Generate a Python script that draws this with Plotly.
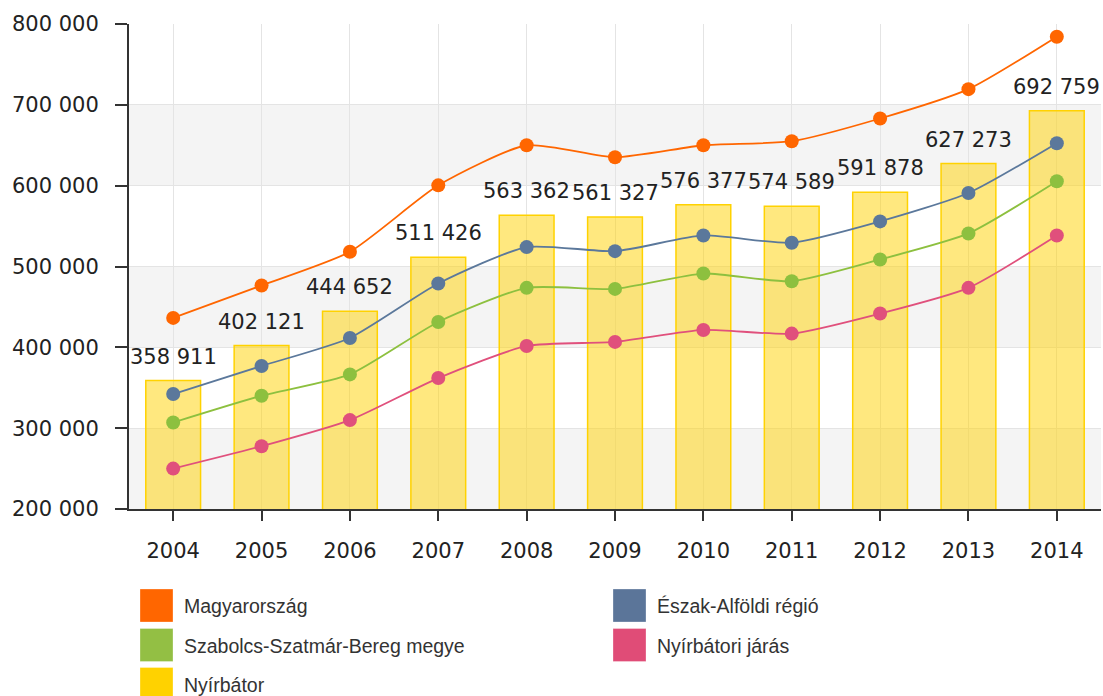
import plotly.graph_objects as go

years = [2004, 2005, 2006, 2007, 2008, 2009, 2010, 2011, 2012, 2013, 2014]
nyirbator = [358911, 402121, 444652, 511426, 563362, 561327, 576377, 574589, 591878, 627273, 692759]
magyarorszag = [436400, 476500, 518200, 600400, 650000, 635100, 650000, 655000, 683100, 719400, 784300]
eszak_alfold = [342200, 376900, 411600, 478900, 524000, 519000, 538400, 529400, 555800, 590900, 652500]
szabolcs = [307000, 340100, 366500, 431400, 473600, 472300, 491300, 481800, 508700, 540900, 605400]
nyirbatori_jaras = [250000, 277700, 310000, 362000, 401700, 406700, 421500, 417000, 441800, 473600, 538400]

y_ticks = [200000, 300000, 400000, 500000, 600000, 700000, 800000]
bands = [(200000, 300000), (400000, 500000), (600000, 700000)]

legend_items = [
    ("Magyarország", "#FF6600"),
    ("Észak-Alföldi régió", "#5B7599"),
    ("Szabolcs-Szatmár-Bereg megye", "#93BF44"),
    ("Nyírbátori járás", "#E04C77"),
    ("Nyírbátor", "#FFD200"),
]

W, H = 1103, 696
ML, MR, MT, MB = 129, 2, 24, 187
PW = W - ML - MR
PH = H - MT - MB

def px(x):
    return (x - ML) / PW

def py(y):
    return (H - MB - y) / PH

fig = go.Figure()

fig.add_trace(go.Bar(
    x=years, y=nyirbator, name="Nyírbátor",
    marker=dict(color="rgba(255,210,0,0.5)", line=dict(color="#FFD200", width=1.5)),
    width=0.62, showlegend=False, hoverinfo="y",
))

line_series = [
    ("Magyarország", magyarorszag, "#FF6600"),
    ("Észak-Alföldi régió", eszak_alfold, "#5B789B"),
    ("Szabolcs-Szatmár-Bereg megye", szabolcs, "#8DC03F"),
    ("Nyírbátori járás", nyirbatori_jaras, "#E0507C"),
]
for name, vals, col in line_series:
    fig.add_trace(go.Scatter(
        x=years, y=vals, name=name, mode="lines+markers",
        line=dict(color=col, width=1.8, shape="spline", smoothing=0.6),
        marker=dict(color=col, size=14),
        showlegend=False,
    ))

annotations = []
for yr, v in zip(years, nyirbator):
    annotations.append(dict(
        x=yr, y=v, xref="x", yref="y", text=f"{v:,}".replace(",", " "),
        showarrow=False, yanchor="middle", xanchor="center", yshift=24,
        font=dict(family="DejaVu Sans", size=21, color="#222222"),
    ))

shapes = []
for y0, y1 in bands:
    shapes.append(dict(type="rect", xref="paper", yref="y", x0=0, x1=1, y0=y0, y1=y1,
                       fillcolor="#F4F4F4", line=dict(width=0), layer="below"))

# legend drawn manually
col_x = [140, 613]
row_top = [589, 628.5, 667.5]
sq = 33
for i, (label, col) in enumerate(legend_items):
    r, c = divmod(i, 2)
    x0 = col_x[c]
    y0 = row_top[r]
    shapes.append(dict(type="rect", xref="paper", yref="paper",
                       x0=px(x0), x1=px(x0 + sq), y0=py(y0), y1=py(y0 + sq),
                       fillcolor=col, line=dict(width=0.5, color="rgba(255,255,255,0.6)")))
    annotations.append(dict(
        xref="paper", yref="paper", x=px(x0 + sq + 9), y=py(y0 + sq / 2 + 0.5),
        text=label, showarrow=False, xanchor="left", yanchor="middle",
        font=dict(family="Liberation Sans", size=19.5, color="#333333"),
    ))

fig.update_layout(
    width=W, height=H,
    margin=dict(l=ML, r=MR, t=MT, b=MB, pad=0),
    paper_bgcolor="white", plot_bgcolor="white",
    separators=". ",
    shapes=shapes, annotations=annotations,
    showlegend=False,
    xaxis=dict(
        range=[years[0] - 0.5, years[-1] + 0.5], tickvals=years, tickformat="d",
        showgrid=True, gridcolor="#E4E4E4", gridwidth=1,
        showline=True, linecolor="#333333", linewidth=2,
        ticks="outside", ticklen=10, tickwidth=1.5, tickcolor="#333333",
        tickfont=dict(family="DejaVu Sans", size=21, color="#222222"),
        ticklabelstandoff=12, zeroline=False, fixedrange=True,
    ),
    yaxis=dict(
        range=[200000, 800000], tickvals=y_ticks, tickformat=",d",
        showgrid=True, gridcolor="#E4E4E4", gridwidth=1,
        showline=True, linecolor="#333333", linewidth=2,
        ticks="outside", ticklen=12, tickwidth=1.5, tickcolor="#333333",
        tickfont=dict(family="DejaVu Sans", size=21, color="#222222"),
        ticklabelstandoff=12, zeroline=False, fixedrange=True,
    ),
)

fig.write_html("out.html", config={"displayModeBar": False},
               post_script="document.body.style.margin='0';document.body.style.overflow='hidden';")
